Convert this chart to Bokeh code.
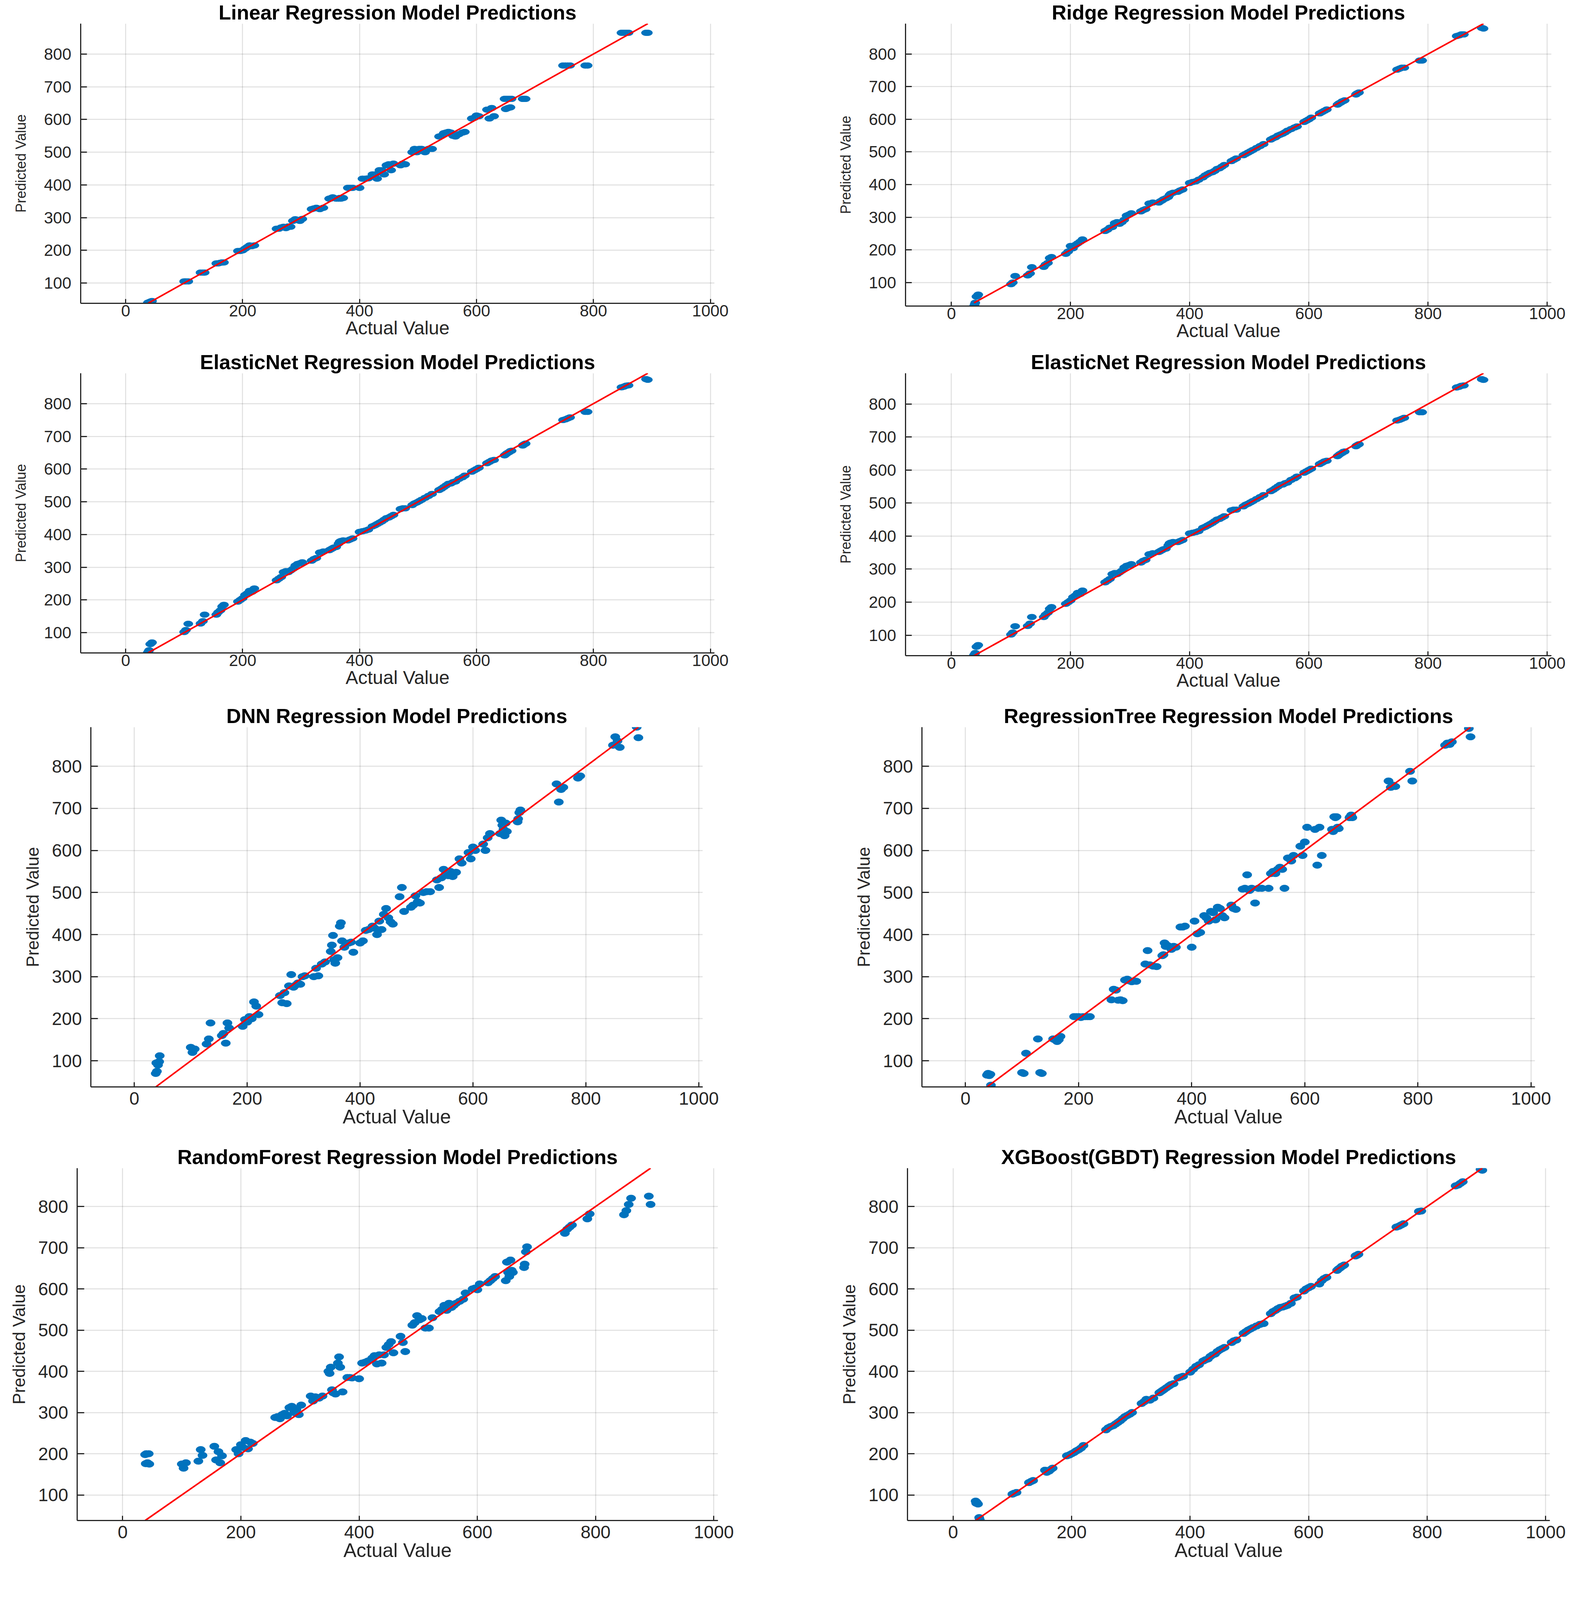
from bokeh.plotting import figure
from bokeh.layouts import column, row
from bokeh.models import Range1d, FixedTicker
from bokeh.embed import file_html
from bokeh.resources import INLINE

# actual values of the test set (shared by every model)
actual = [38, 39, 40, 42, 44, 45,
          100, 103, 107,
          128, 132, 135,
          155, 158, 162, 165, 168,
          192, 196, 200, 204, 208, 212, 216, 220,
          258, 262, 266, 270, 274, 278, 282, 286, 290, 294, 298, 302,
          318, 322, 326, 332, 338,
          348, 350, 352, 354, 356, 360, 364, 366, 368, 372,
          380, 384, 388,
          400, 405, 410, 415,
          422, 426, 430, 434, 438, 442, 446, 450, 454, 458,
          470, 474, 478,
          490, 494, 498, 502, 506, 512, 518, 524,
          536, 540, 544, 548, 552, 556, 560, 564, 570, 576, 580,
          592, 596, 600, 604, 618, 622, 626, 630,
          648, 650, 652, 654, 656, 658, 660,
          679, 680, 682, 684,
          748, 752, 756, 760,
          786, 790,
          848, 852, 856, 860,
          890, 893]

pred_linear = [40, 40, 41, 43, 44, 45,
               105, 105, 105,
               132, 132, 132,
               160, 160, 162, 163, 163,
               198, 198, 200, 205, 210, 215, 213, 215,
               266, 266, 270, 272, 268, 273, 272, 290, 295, 293, 290, 296,
               326, 328, 330, 326, 330,
               358, 358, 360, 362, 360, 358, 358, 360, 358, 360,
               391, 391, 391,
               391, 419, 419, 420,
               432, 432, 419, 445, 445, 432, 460, 463, 445, 465,
               460, 465, 463,
               500, 510, 500, 510, 510, 500, 510, 510,
               548, 550, 558, 560, 562, 560, 550, 548, 555, 560, 562,
               603, 605, 612, 610, 630, 603, 635, 610,
               663, 632, 663, 635, 663, 637, 663,
               663, 663, 663, 663,
               765, 765, 765, 765,
               765, 765,
               865, 865, 865, 865,
               865, 865]

pred_ridge = [28, 33, 38, 57, 60, 63,
              95, 100, 120,
              122, 128, 147,
              148, 155, 160, 175, 178,
              188, 195, 212, 205, 215, 220, 225, 232,
              258, 262, 268, 270, 282, 285, 280, 285, 292, 305, 308, 312,
              318, 322, 325, 342, 345,
              345, 348, 350, 352, 355, 358, 362, 368, 372, 375,
              378, 382, 385,
              405, 408, 410, 415,
              422, 428, 432, 436, 438, 442, 448, 450, 455, 460,
              472, 476, 480,
              490, 494, 498, 502, 506, 512, 518, 524,
              538, 542, 545, 550, 553, 556, 560, 565, 570, 575, 578,
              592, 596, 600, 605, 618, 622, 626, 630,
              645, 648, 650, 652, 655, 656, 658,
              676, 678, 680, 682,
              752, 755, 758, 758,
              780, 780,
              855, 857, 860, 860,
              880, 878]

pred_elastic = [40, 42, 46, 65, 68, 70,
                102, 108, 127,
                128, 135, 155,
                155, 162, 168, 180, 185,
                195, 200, 205, 215, 220, 228, 225, 235,
                260, 265, 270, 285, 288, 285, 290, 295, 305, 310, 312, 315,
                320, 325, 328, 345, 348,
                352, 354, 356, 358, 360, 362, 372, 378, 380, 382,
                382, 385, 388,
                408, 410, 412, 415,
                425, 428, 432, 436, 440, 445, 450, 452, 456, 460,
                478, 480, 480,
                490, 495, 498, 502, 506, 512, 518, 524,
                536, 540, 545, 550, 555, 556, 560, 562, 570, 575, 580,
                592, 596, 600, 604, 618, 622, 626, 628,
                642, 645, 648, 650, 652, 655, 656,
                672, 674, 676, 678,
                750, 752, 755, 758,
                775, 775,
                850, 852, 855, 856,
                875, 873]

pred_dnn = [70, 95, 75, 90, 98, 112,
            132, 120, 128,
            140, 152, 190,
            160, 165, 142, 190, 178,
            182, 198, 192, 205, 200, 240, 230, 210,
            255, 238, 262, 236, 278, 305, 275, 280, 285, 282, 300, 302,
            300, 320, 302, 330, 335,
            360, 375, 398, 340, 332, 345, 420, 428, 385, 370,
            380, 382, 358,
            380, 385, 410, 412,
            420, 415, 400, 432, 412, 448, 462, 440, 430, 425,
            490, 512, 455,
            465, 470, 492, 478, 475, 500, 502, 502,
            530, 512, 535, 555, 545, 540, 550, 538, 548, 580, 570,
            595, 580, 608, 600, 615, 600, 630, 640,
            640, 672, 660, 650, 635, 665, 645,
            668, 675, 690, 696,
            758, 715, 745, 750,
            772, 777,
            850, 870, 860, 845,
            893, 868]

pred_tree = [66, 68, 70, 65, 68, 42,
             72, 70, 118,
             152, 72, 70,
             152, 150, 146, 150, 158,
             205, 205, 205, 203, 205, 205, 205, 205,
             245, 270, 268, 244, 245, 243, 292, 294, 290, 288, 290, 289,
             330, 362, 328, 325, 324,
             350, 352, 380, 372, 375, 372, 365, 370, 372, 370,
             418, 418, 420,
             370, 432, 402, 405,
             445, 440, 432, 455, 452, 435, 465, 462, 445, 440,
             470, 462, 460,
             508, 510, 542, 505, 510, 475, 510, 510,
             510, 545, 550, 545, 555, 560, 555, 510, 582, 575, 588,
             610, 588, 620, 655, 650, 565, 655, 588,
             650, 645, 680, 678, 680, 655, 652,
             678, 680, 684, 678,
             765, 750, 755, 752,
             788, 765,
             850, 855, 852, 858,
             890, 870]

pred_forest = [198, 176, 200, 178, 200, 175,
               175, 165, 178,
               182, 210, 196,
               218, 185, 205, 178, 195,
               210, 200, 222, 215, 232, 212, 228, 225,
               288, 290, 285, 295, 298, 292, 312, 315, 300, 308, 295, 318,
               340, 328, 338, 335, 340,
               400, 395, 410, 355, 348, 345, 420, 435, 410, 350,
               385, 385, 384,
               382, 420, 422, 425,
               432, 438, 418, 440, 420, 440, 458, 465, 472, 445,
               485, 470, 448,
               512, 518, 535, 525, 528, 505, 505, 530,
               545, 550, 560, 548, 565, 555, 560, 565, 570, 575, 590,
               600, 602, 598, 612, 615, 620, 625, 630,
               620, 665, 640, 630, 670, 645, 640,
               652, 660, 690, 702,
               735, 745, 750, 755,
               770, 782,
               780, 790, 805, 820,
               825, 805]

pred_xgb = [85, 80, 82, 78, 45, 40,
            102, 104, 106,
            130, 133, 135,
            160, 155, 158, 162, 165,
            195, 197, 200, 203, 207, 210, 214, 220,
            258, 263, 266, 268, 272, 276, 280, 285, 290, 293, 296, 300,
            322, 326, 332, 330, 335,
            348, 350, 352, 354, 356, 360, 364, 366, 368, 370,
            384, 386, 388,
            398, 405, 412, 416,
            425, 428, 430, 436, 440, 442, 448, 452, 455, 458,
            470, 474, 476,
            492, 496, 500, 503, 506, 510, 514, 516,
            540, 545, 548, 552, 555, 556, 558, 560, 565, 578, 580,
            595, 600, 603, 606, 612, 620, 625, 628,
            645, 648, 650, 652, 655, 656, 658,
            680, 681, 682, 684,
            750, 752, 755, 758,
            788, 789,
            850, 852, 856, 860,
            890, 888]

x_ticks = [0, 200, 400, 600, 800, 1000]
y_ticks = [100, 200, 300, 400, 500, 600, 700, 800]

AX = "#262626"
BLUE = "#0072BD"
FONT = "Liberation Sans"

# the whole grid is kept inside the part of the window that gets photographed
SMALL = dict(tick=42, label=48, ylabel=36, title=52, xtick_len=11, ytick_len=16,
             x_std=4, xl_std=0, y_std=24, yl_std=35, t_std=0, mw=24, mh=15)
LARGE = dict(tick=46, label=50, ylabel=44, title=52, xtick_len=12, ytick_len=18,
             x_std=13, xl_std=0, y_std=23, yl_std=22, t_std=0, mw=24, mh=17)


def panel(title, pred, box, st):
    left, right, top, bottom, fw, fh = box
    lo = min(actual + pred)
    hi = max(actual + pred)
    p = figure(frame_width=fw, frame_height=fh,
               min_border_left=left, min_border_right=right,
               min_border_top=top, min_border_bottom=bottom,
               x_range=Range1d(-77, 1007), y_range=Range1d(lo, hi),
               output_backend="svg", toolbar_location=None,
               background_fill_color="white", border_fill_color="white")
    p.outline_line_color = None

    p.title.text = title
    p.title.align = "center"
    p.title.text_font = FONT
    p.title.text_font_style = "bold"
    p.title.text_font_size = "%dpx" % st["title"]
    p.title.text_color = "black"
    p.title.standoff = st["t_std"]

    p.xaxis.ticker = FixedTicker(ticks=x_ticks)
    p.yaxis.ticker = FixedTicker(ticks=y_ticks)
    p.xaxis.axis_label = "Actual Value"
    p.yaxis.axis_label = "Predicted Value"
    for ax in (p.xaxis, p.yaxis):
        ax.axis_line_color = AX
        ax.axis_line_width = 3
        ax.major_tick_line_color = AX
        ax.major_tick_line_width = 3
        ax.major_tick_out = 0
        ax.minor_tick_line_color = None
        ax.major_label_text_font = FONT
        ax.major_label_text_font_size = "%dpx" % st["tick"]
        ax.major_label_text_color = AX
        ax.axis_label_text_font = FONT
        ax.axis_label_text_font_style = "normal"
        ax.axis_label_text_color = AX
    p.xaxis.major_tick_in = st["xtick_len"]
    p.yaxis.major_tick_in = st["ytick_len"]
    p.xaxis.axis_label_text_font_size = "%dpx" % st["label"]
    p.yaxis.axis_label_text_font_size = "%dpx" % st["ylabel"]
    p.xaxis.major_label_standoff = st["x_std"]
    p.xaxis.axis_label_standoff = st["xl_std"]
    p.yaxis.major_label_standoff = st["y_std"]
    p.yaxis.axis_label_standoff = st["yl_std"]

    p.grid.grid_line_color = AX
    p.grid.grid_line_alpha = 0.15
    p.grid.grid_line_width = 2.5

    p.ellipse(actual, pred, width=st["mw"], height=st["mh"],
              width_units="screen", height_units="screen",
              fill_color=BLUE, line_color=BLUE)
    a_lo, a_hi = min(actual), max(actual)
    p.line([a_lo, a_hi], [a_lo, a_hi], line_color="red", line_width=4)
    return p


# (border left, border right, border top, border bottom, frame w, frame h)
p1 = panel("Linear Regression Model Predictions", pred_linear,
           (206, 196, 59, 113, 1622, 716), SMALL)
p2 = panel("Ridge Regression Model Predictions", pred_ridge,
           (293, 73, 59, 106, 1653, 723), SMALL)
p3 = panel("ElasticNet Regression Model Predictions", pred_elastic,
           (206, 196, 66, 106, 1622, 716), SMALL)
p4 = panel("ElasticNet Regression Model Predictions", pred_elastic,
           (293, 73, 59, 106, 1653, 723), SMALL)
p5 = panel("DNN Regression Model Predictions", pred_dnn,
           (232, 226, 83, 123, 1566, 921), LARGE)
p6 = panel("RegressionTree Regression Model Predictions", pred_tree,
           (335, 115, 83, 123, 1569, 921), LARGE)
p7 = panel("RandomForest Regression Model Predictions", pred_forest,
           (197, 187, 85, 141, 1640, 902), LARGE)
p8 = panel("XGBoost(GBDT) Regression Model Predictions", pred_xgb,
           (298, 77, 85, 141, 1644, 902), LARGE)

layout = column(row(p1, p2), row(p3, p4), row(p5, p6), row(p7, p8))

open("out.html", "w").write(file_html(layout, INLINE))
